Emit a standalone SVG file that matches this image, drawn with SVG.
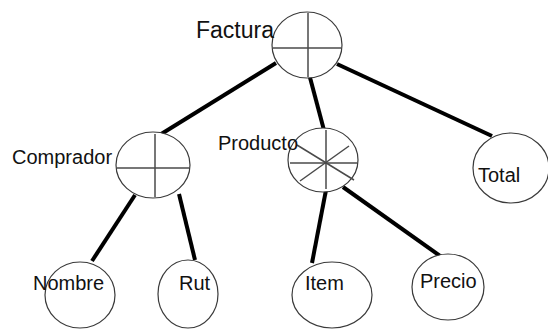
<svg xmlns="http://www.w3.org/2000/svg" width="548" height="329" viewBox="0 0 548 329">
  <style>
    .node { fill: #ffffff; stroke: #3a3a3a; stroke-width: 1.2; }
    .div { stroke: #4a4a4a; stroke-width: 1.5; fill: none; }
    .edge { stroke: #000000; stroke-width: 4; stroke-linecap: butt; fill: none; }
    .lbl { font-family: "Liberation Sans", Arial, sans-serif; font-size: 20px; fill: #111111; }
  </style>
  <rect width="548" height="329" fill="#ffffff"/>

  <!-- tree edges -->
  <g id="connectors">
    <line class="edge" x1="276" y1="63" x2="158" y2="136"/>
    <line class="edge" x1="308" y1="70" x2="325" y2="134"/>
    <line class="edge" x1="337" y1="64" x2="492" y2="136"/>
    <line class="edge" x1="135" y1="195" x2="92" y2="261"/>
    <line class="edge" x1="179" y1="194" x2="195" y2="260"/>
    <line class="edge" x1="326" y1="190" x2="312" y2="263"/>
    <line class="edge" x1="343" y1="187" x2="443" y2="258"/>
  </g>

  <g id="factura">
    <ellipse class="node" cx="307" cy="45" rx="35" ry="33"/>
    <line class="div" x1="308" y1="13" x2="308" y2="77"/>
    <line class="div" x1="273" y1="48" x2="341" y2="48"/>
    <text class="lbl" x="196" y="38" style="font-size:23px">Factura</text>
  </g>

  <g id="comprador">
    <ellipse class="node" cx="153" cy="165" rx="37" ry="33"/>
    <line class="div" x1="155" y1="134" x2="155" y2="197"/>
    <line class="div" x1="117" y1="168" x2="189" y2="168"/>
    <text class="lbl" x="12" y="164">Comprador</text>
  </g>

  <g id="producto">
    <ellipse class="node" cx="323" cy="160" rx="35" ry="32"/>
    <line class="div" x1="326" y1="130" x2="326" y2="189"/>
    <line class="div" x1="290" y1="163" x2="357" y2="163"/>
    <line class="div" x1="297" y1="145" x2="354" y2="180"/>
    <line class="div" x1="300" y1="181" x2="349" y2="146"/>
    <text class="lbl" x="218" y="150">Producto</text>
  </g>

  <g id="total">
    <ellipse class="node" cx="511" cy="168" rx="38" ry="35"/>
    <text class="lbl" x="478" y="182">Total</text>
  </g>

  <g id="nombre">
    <ellipse class="node" cx="80" cy="295" rx="35" ry="33"/>
    <text class="lbl" x="33" y="290">Nombre</text>
  </g>

  <g id="rut">
    <ellipse class="node" cx="188" cy="294" rx="30" ry="34"/>
    <text class="lbl" x="179" y="290">Rut</text>
  </g>

  <g id="item">
    <ellipse class="node" cx="332" cy="295" rx="40" ry="33"/>
    <text class="lbl" x="305" y="290">Item</text>
  </g>

  <g id="precio">
    <ellipse class="node" cx="448" cy="287" rx="36" ry="33"/>
    <text class="lbl" x="420" y="288">Precio</text>
  </g>
</svg>
